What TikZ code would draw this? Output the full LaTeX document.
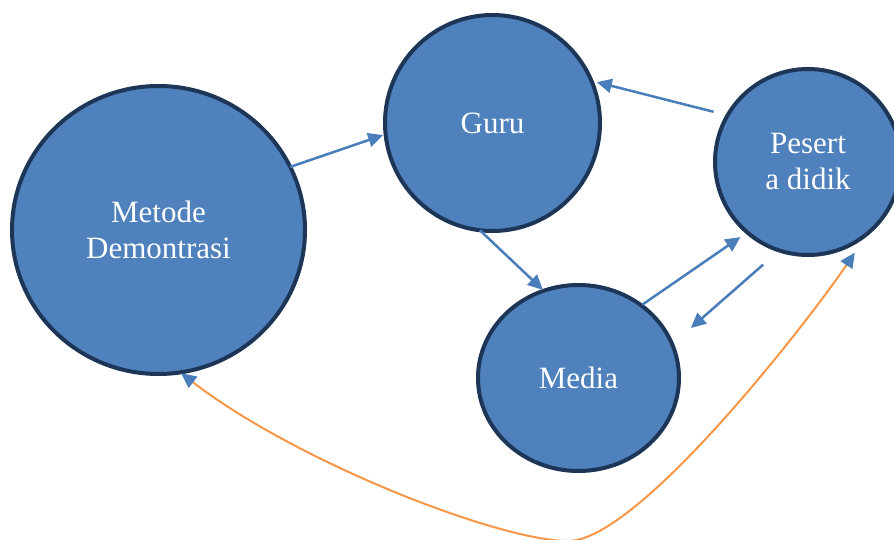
\documentclass[tikz,border=0pt]{standalone}
\usepackage{fontspec}
\setmainfont{Liberation Serif}
\usetikzlibrary{shapes.geometric,arrows.meta,calc}
\definecolor{nodefill}{HTML}{4F81BD}
\definecolor{nodeline}{HTML}{1D3657}
\definecolor{arrowblue}{HTML}{4A7EBB}
\definecolor{curveorange}{HTML}{F79646}
\tikzset{
  bubble/.style={ellipse, fill=nodefill, draw=nodeline, line width=4pt, inner sep=0pt,
    text=white, align=center, font=\fontsize{31}{36}\selectfont},
  link/.style={draw=arrowblue, line width=2.5pt, -{Triangle[length=15pt,width=14pt]}},
  backlink/.style={draw=curveorange, line width=2pt,
    {Triangle[color=arrowblue,length=15pt,width=14pt]}-{Triangle[color=arrowblue,length=15pt,width=14pt]}}
}
\begin{document}
\begin{tikzpicture}[x=1pt,y=1pt]
\useasboundingbox (0,0) rectangle (894,-540);
\node[bubble, minimum width=293pt, minimum height=288pt] (md) at (158.5,-230) {Metode\\Demontrasi};
\node[bubble, minimum width=215pt, minimum height=216pt] (gr) at (492.5,-123) {Guru};
\node[bubble, minimum width=186pt, minimum height=186pt] (pd) at (808,-162) {Pesert\\a didik};
\node[bubble, minimum width=201pt, minimum height=186pt] (me) at (578.5,-378) {Media};
% connectors
\draw[link] ($(md)+(25.6:146)$) -- ($(gr)+(186.3:110)$);
\draw[link] ($(pd)+(152:107)$) -- ($(gr)+(21.4:112)$);
\draw[link] ($(gr)+(-96.7:108)$) -- ($(me)+(112:95)$);
\draw[link] ($(me)+(49:97)$) -- ($(pd)+(-132:101)$);
\draw[link] ($(pd)+(-113.6:112)$) -- ($(me)+(24:123)$);
\coordinate (bot) at (568,-541);
\draw[backlink] ($(pd)+(-62.7:102)$) .. controls (815,-312) and (640,-541) .. (bot)
  .. controls (500,-541) and (298,-463) .. ($(md)+(-81:145)$);
\end{tikzpicture}
\end{document}
